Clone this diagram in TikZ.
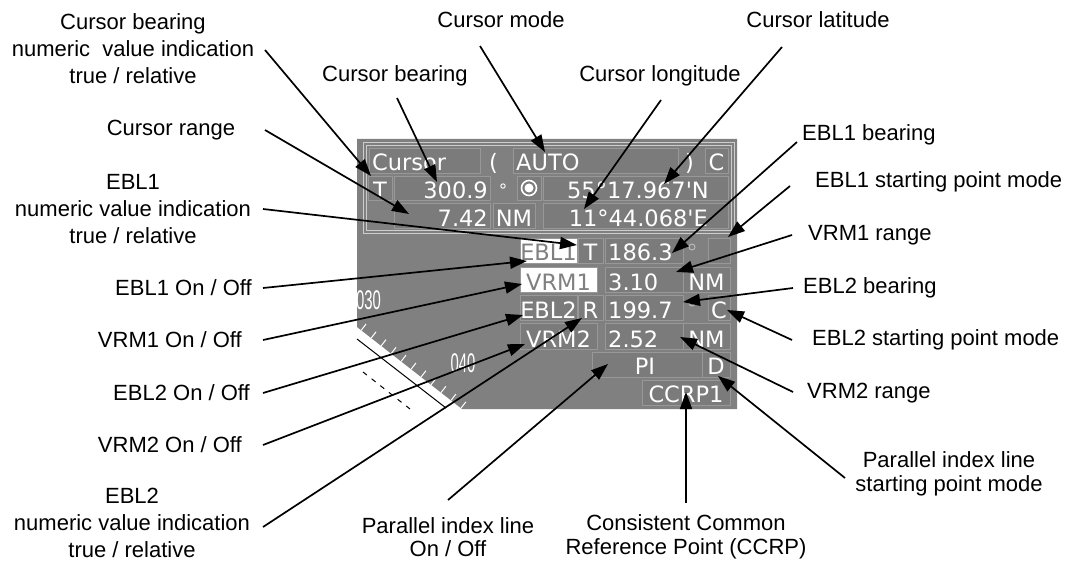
\documentclass[tikz,border=0pt]{standalone}
\usepackage{fontspec}
\usepackage{graphicx}
\setmainfont{Liberation Sans}
\newfontfamily\pf{DejaVu Sans}
\usetikzlibrary{arrows.meta}
\definecolor{pg}{RGB}{128,128,128}
\definecolor{bxf}{RGB}{123,123,123}
\definecolor{bxl}{RGB}{152,152,152}
\definecolor{frl}{RGB}{205,205,205}
\definecolor{dimc}{RGB}{185,185,185}
\begin{document}
\begin{tikzpicture}[x=1pt,y=-1pt,
 lbl/.style={font=\fontsize{22}{27}\selectfont, align=center, inner sep=0pt},
 lbltwo/.style={font=\fontsize{22}{23.5}\selectfont, align=center, inner sep=0pt},
 callout/.style={line width=1.7pt, -{Triangle[length=17pt,width=12pt]}},
 pbox/.style={fill=bxf, draw=bxl, line width=0.8pt},
 hbox/.style={fill=white, draw=bxl, line width=0.8pt},
 ptxt/.style={font=\pf\fontsize{22.5}{22.5}\selectfont, text=white, inner sep=0pt},
 htxt/.style={ptxt, text=pg},
 ticks/.style={draw=white, line width=1pt},
 dial/.style={font=\fontsize{27}{27}\selectfont, text=white, inner sep=0pt}]
\useasboundingbox (0,0) rectangle (1067,561);
\fill[white] (0,0) rectangle (1067,561);
% ---------- panel ----------
\fill[pg] (357,139) -- (737,139) -- (737,409) -- (462,409) -- (357,327) -- cycle;
\foreach \t in {0.04,0.135,...,0.99}
  \draw[ticks] ({357+105*\t},{327+82*\t}) -- ++(4.9,-6.3);
\draw[black, line width=1pt] (357,339) -- (446,408);
\draw[black, line width=1pt, dash pattern=on 5pt off 6pt] (363,372) -- (410,409);
\begin{scope}
\clip (357,139) -- (737,139) -- (737,409) -- (462,409) -- (357,327) -- cycle;
\node[dial, anchor=east] (d030) at (381,300) {\scalebox{0.55}[1]{030}};
\end{scope}
\node[dial] (d040) at (463,363) {\scalebox{0.55}[1]{040}};
% cursor frame
\draw[frl, line width=1pt] (363,143) rectangle (734,234);
\draw[frl, line width=1pt] (366,146) rectangle (731,231);
% row 1
\draw[pbox] (369,148) rectangle (480,173);
\draw[pbox] (513,148) rectangle (678,173);
\draw[pbox] (705,148) rectangle (728,173);
\node[ptxt, anchor=base west] (tcur) at (372,171) {Cursor};
\node[ptxt, anchor=base west] (tlp) at (489,171) {(};
\node[ptxt, anchor=base west] (tauto) at (516,171) {AUTO};
\node[ptxt, anchor=base west] (trp) at (685,171) {)};
\node[ptxt, anchor=base] (tc1) at (716.5,171) {C};
% row 2
\draw[pbox] (368,176) rectangle (392,200);
\draw[pbox] (394,176) rectangle (490,200);
\draw[pbox] (517,176) rectangle (541,200);
\draw[pbox] (543,176) rectangle (728,200);
\node[ptxt, anchor=base] (tt1) at (380,199) {T};
\node[ptxt, anchor=base east] (tbrg) at (488,199) {300.9};
\node[ptxt, anchor=base, font=\pf\fontsize{17}{17}\selectfont] (tdeg1) at (503,197) {°};
\draw[white, line width=1.6pt] (529,188) circle (7.5);
\fill[white] (529,188) circle (4.5);
\node[ptxt, anchor=base east] (tlat) at (709,199) {55°17.967'N};
% row 3
\draw[pbox] (394,203) rectangle (490,228);
\draw[pbox] (493,203) rectangle (535,228);
\draw[pbox] (543,203) rectangle (728,228);
\node[ptxt, anchor=base east] (trng) at (488,226) {7.42};
\node[ptxt, anchor=base] (tnm0) at (514,226) {NM};
\node[ptxt, anchor=base east] (tlon) at (708,226) {11°44.068'E};
% EBL1 row
\draw[hbox] (520,238) rectangle (577,263);
\draw[pbox] (578,238) rectangle (603,263);
\draw[pbox] (605,238) rectangle (683,263);
\draw[pbox] (708,238) rectangle (730,263);
\node[htxt, anchor=base] (tebl1) at (548.5,261) {EBL1};
\node[ptxt, anchor=base] (tt2) at (590.5,261) {T};
\node[ptxt, anchor=base west] (te1v) at (608,261) {186.3};
\draw[dimc, line width=1pt] (692,247) circle (3);
% VRM1 row
\draw[hbox] (520,267) rectangle (597,292);
\draw[pbox] (605,267) rectangle (683,292);
\draw[pbox] (683,267) rectangle (730,292);
\node[htxt, anchor=base] (tvrm1) at (558.5,290) {VRM1};
\node[ptxt, anchor=base west] (tv1v) at (608,290) {3.10};
\node[ptxt, anchor=base] (tnm1) at (706.5,290) {NM};
% EBL2 row
\draw[pbox] (520,295) rectangle (577,320);
\draw[pbox] (578,295) rectangle (603,320);
\draw[pbox] (605,295) rectangle (683,320);
\draw[pbox] (708,295) rectangle (730,320);
\node[ptxt, anchor=base] (tebl2) at (548.5,318) {EBL2};
\node[ptxt, anchor=base] (tr2) at (590.5,318) {R};
\node[ptxt, anchor=base west] (te2v) at (608,318) {199.7};
\draw[dimc, line width=1pt] (692,303) circle (3);
\node[ptxt, anchor=base] (tc2) at (719,318) {C};
% VRM2 row
\draw[pbox] (520,323) rectangle (597,349);
\draw[pbox] (605,323) rectangle (683,349);
\draw[pbox] (683,323) rectangle (730,349);
\node[ptxt, anchor=base] (tvrm2) at (558.5,347) {VRM2};
\node[ptxt, anchor=base west] (tv2v) at (608,347) {2.52};
\node[ptxt, anchor=base] (tnm2) at (706.5,347) {NM};
% PI row
\draw[pbox] (592,352) rectangle (702,377);
\draw[pbox] (702,352) rectangle (730,377);
\node[ptxt, anchor=base] (tpi) at (645,374) {PI};
\node[ptxt, anchor=base] (td) at (716,374) {D};
% CCRP row
\draw[pbox] (642,380) rectangle (730,405);
\node[ptxt, anchor=base] (tccrp) at (686,402) {CCRP1};
% ---------- labels ----------
\node[lbl] (l1) at (133,49) {Cursor bearing\\numeric\ \ value indication\\true / relative};
\node[lbl] (l2) at (171,130) {Cursor range};
\node[lbl] (l3) at (133,209) {EBL1\\numeric value indication\\true / relative};
\node[lbl, anchor=east] (l4) at (252,288) {EBL1 On / Off};
\node[lbl, anchor=east] (l5) at (242,340) {VRM1 On / Off};
\node[lbl, anchor=east] (l6) at (250,393) {EBL2 On / Off};
\node[lbl, anchor=east] (l7) at (242,445) {VRM2 On / Off};
\node[lbl] (l8) at (132,523) {EBL2\\numeric value indication\\true / relative};
\node[lbltwo] (l9) at (448,537) {Parallel index line\\On / Off};
\node[lbltwo] (l10) at (686,537) {Consistent Common\\Reference Point (CCRP)};
\node[lbltwo] (l11) at (949,474) {Parallel index line\\starting point mode};
\node[lbl, anchor=west] (l12) at (807,393) {VRM2 range};
\node[lbl, anchor=west] (l13) at (812,340) {EBL2 starting point mode};
\node[lbl, anchor=west] (l14) at (803,288) {EBL2 bearing};
\node[lbl, anchor=west] (l15) at (808,235) {VRM1 range};
\node[lbl, anchor=west] (l16) at (815,182) {EBL1 starting point mode};
\node[lbl, anchor=west] (l17) at (802,135) {EBL1 bearing};
\node[lbl] (l18) at (818,20) {Cursor latitude};
\node[lbl] (l19) at (660,76) {Cursor longitude};
\node[lbl] (l20) at (501,20) {Cursor mode};
\node[lbl] (l21) at (395,76) {Cursor bearing};
% ---------- connector ends ----------
\coordinate (s1) at (265,50);   \coordinate (e1) at (371,176);
\coordinate (s2) at (265,130);  \coordinate (e2) at (409,214);
\coordinate (s3) at (263,209);  \coordinate (e3) at (577,245);
\coordinate (s4) at (263,288);  \coordinate (e4) at (527,261);
\coordinate (s5) at (263,340);  \coordinate (e5) at (522,284);
\coordinate (s6) at (263,393);  \coordinate (e6) at (523,315);
\coordinate (s7) at (263,445);  \coordinate (e7) at (525,344);
\coordinate (s8) at (263,527);  \coordinate (e8) at (582,318);
\coordinate (s9) at (448,500);  \coordinate (e9) at (608,364);
\coordinate (s10) at (686,503); \coordinate (e10) at (686,392);
\coordinate (s11) at (845,478); \coordinate (e11) at (718,376);
\coordinate (s12) at (793,392); \coordinate (e12) at (680,337);
\coordinate (s13) at (792,340); \coordinate (e13) at (727,310);
\coordinate (s14) at (793,288); \coordinate (e14) at (683,302);
\coordinate (s15) at (792,235); \coordinate (e15) at (676,272);
\coordinate (s16) at (790,186); \coordinate (e16) at (728,237);
\coordinate (s17) at (797,142); \coordinate (e17) at (672,253);
\coordinate (s18) at (782,47);  \coordinate (e18) at (664,184);
\coordinate (s19) at (661,100); \coordinate (e19) at (584,209);
\coordinate (s20) at (480,46);  \coordinate (e20) at (545,152);
\coordinate (s21) at (397,98);  \coordinate (e21) at (437,182);
\foreach \i in {1,...,21}
  \draw[callout] (s\i) -- (e\i);
\end{tikzpicture}
\end{document}
